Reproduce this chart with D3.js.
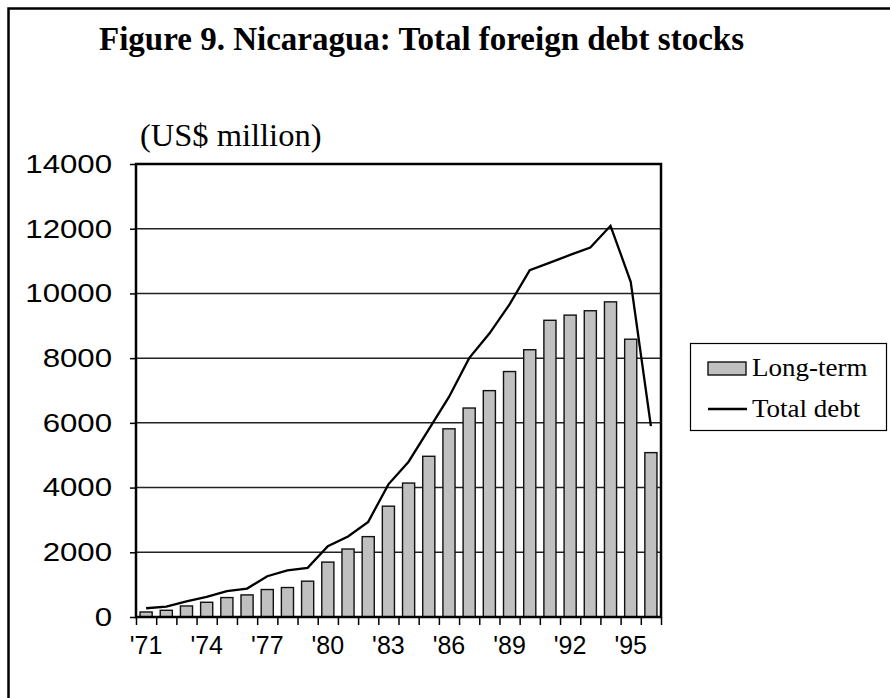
<!DOCTYPE html>
<html>
<head>
<meta charset="utf-8">
<script src="https://cdn.jsdelivr.net/npm/d3@7"></script>
<style>
    body { margin: 0; background: #fff; }
    svg { display: block; }
</style>
</head>
<body>
<div id="chart-container"></div>
<script>
const years = d3.range(1971, 1997);
const xLabels = ["'71", "'74", "'77", "'80", "'83", "'86", "'89", "'92", "'95"];
const yTicks = [0, 2000, 4000, 6000, 8000, 10000, 12000, 14000];

// US$ million
const longTerm = [155, 207, 341, 455, 600, 683, 849, 911, 1107, 1697, 2101, 2484, 3425,
    4140, 4967, 5816, 6458, 6996, 7586, 8260, 9170, 9330, 9465, 9740, 8585, 5080];
const totalDebt = [270, 320, 480, 620, 800, 880, 1260, 1440, 1520, 2190, 2490, 2940, 4100,
    4800, 5800, 6800, 8000, 8760, 9660, 10720, 10950, 11190, 11420, 12090, 10360, 5900];

const seriesNames = ["Long-term", "Total debt"];

document.addEventListener("DOMContentLoaded", () => {
    const svgW = 890;
    const svgH = 698;
    const left = 136, right = 661, top = 164, bottom = 617;
    const serif = "'Liberation Serif', 'Times New Roman', serif";
    const sans = "'Liberation Sans', Arial, sans-serif";

    const svg = d3.select("#chart-container")
    .append("svg")
    .attr("width", svgW)
    .attr("height", svgH);

    // outer frame (runs off the bottom/right edge)
    svg.append("rect")
    .attr("x", 8.5)
    .attr("y", 8.5)
    .attr("width", 900)
    .attr("height", 700)
    .attr("fill", "none")
    .attr("stroke", "#000")
    .attr("stroke-width", 2.5);

    // sx: horizontal stretch, the source text is a bit wider than the fonts here
    const addText = (txt, x, y, size, family, weight, sx) => svg.append("text")
    .text(txt)
    .attr("transform", `translate(${x},${y}) scale(${sx || 1},1)`)
    .style("font-family", family)
    .style("font-size", size + "px")
    .style("font-weight", weight || "normal");

    addText("Figure 9. Nicaragua: Total foreign debt stocks", 99, 50, 33, serif, "bold");
    addText("(US$ million)", 140, 146, 32.5, serif);

    const xScale = d3.scaleBand()
    .domain(years)
    .range([left, right])
    .paddingInner(0.4)
    .paddingOuter(0.2);

    const xEdge = d3.scaleLinear()
    .domain([0, years.length])
    .range([left, right]);

    const yScale = d3.scaleLinear()
    .domain([0, 14000])
    .range([bottom, top]);

    // gridlines
    svg.append("g")
    .selectAll("line")
    .data(yTicks.slice(1, -1))
    .enter()
    .append("line")
    .attr("x1", left)
    .attr("x2", right)
    .attr("y1", d => yScale(d))
    .attr("y2", d => yScale(d))
    .attr("stroke", "#222")
    .attr("stroke-width", 1.5);

    // bars
    svg.append("g")
    .selectAll("rect")
    .data(years)
    .enter()
    .append("rect")
    .attr("x", d => xScale(d))
    .attr("y", (d, i) => yScale(longTerm[i]))
    .attr("width", xScale.bandwidth())
    .attr("height", (d, i) => bottom - yScale(longTerm[i]))
    .attr("fill", "#c0c0c0")
    .attr("stroke", "#111")
    .attr("stroke-width", 1.4);

    // total debt line
    const line = d3.line()
    .x((d, i) => xScale(years[i]) + xScale.bandwidth() / 2)
    .y(d => yScale(d));

    svg.append("path")
    .datum(totalDebt)
    .attr("d", line)
    .attr("fill", "none")
    .attr("stroke", "#000")
    .attr("stroke-width", 2.3);

    // plot frame
    svg.append("rect")
    .attr("x", left)
    .attr("y", top)
    .attr("width", right - left)
    .attr("height", bottom - top)
    .attr("fill", "none")
    .attr("stroke", "#000")
    .attr("stroke-width", 2.5);

    // y axis
    const ySX = 1.2;
    const yAxis = svg.append("g")
    .attr("transform", `translate(${left},0)`)
    .call(d3.axisLeft(yScale).tickValues(yTicks).tickSize(6).tickFormat(d3.format("d")));
    yAxis.select(".domain").remove();
    yAxis.selectAll("line").attr("stroke", "#000").attr("stroke-width", 1.5);
    yAxis.selectAll("text")
    .attr("x", -24 / ySX)
    .attr("transform", `scale(${ySX},1)`)
    .style("font-family", sans)
    .style("font-size", "26px")
    .attr("fill", "#000");

    // x tick marks at category edges
    const xTickAxis = svg.append("g")
    .attr("transform", `translate(0,${bottom})`)
    .call(d3.axisBottom(xEdge).tickValues(d3.range(years.length + 1)).tickSize(8).tickFormat(""));
    xTickAxis.select(".domain").remove();
    xTickAxis.selectAll("line").attr("stroke", "#000").attr("stroke-width", 1.5);

    // x labels
    const labelYears = years.filter((_, i) => i % 3 === 0);
    const xAxis = svg.append("g")
    .attr("transform", `translate(0,${bottom})`)
    .call(d3.axisBottom(xScale).tickValues(labelYears).tickSize(0).tickPadding(19)
        .tickFormat((d, i) => xLabels[i]));
    xAxis.select(".domain").remove();
    xAxis.selectAll("text")
    .style("font-family", sans)
    .style("font-size", "25px")
    .attr("fill", "#000");

    // legend
    const legend = svg.append("g");
    legend.append("rect")
    .attr("x", 690.5)
    .attr("y", 343.5)
    .attr("width", 196)
    .attr("height", 87)
    .attr("fill", "#fff")
    .attr("stroke", "#000")
    .attr("stroke-width", 1.2);

    legend.append("rect")
    .attr("x", 708)
    .attr("y", 362)
    .attr("width", 38)
    .attr("height", 13)
    .attr("fill", "#c0c0c0")
    .attr("stroke", "#111")
    .attr("stroke-width", 1.4);

    legend.append("line")
    .attr("x1", 708)
    .attr("x2", 747)
    .attr("y1", 409)
    .attr("y2", 409)
    .attr("stroke", "#000")
    .attr("stroke-width", 2.5);

    seriesNames.forEach((name, i) => {
        addText(name, 752, 376 + i * 41, 25, serif, "normal", 1.08);
    });
});
</script>
</body>
</html>
